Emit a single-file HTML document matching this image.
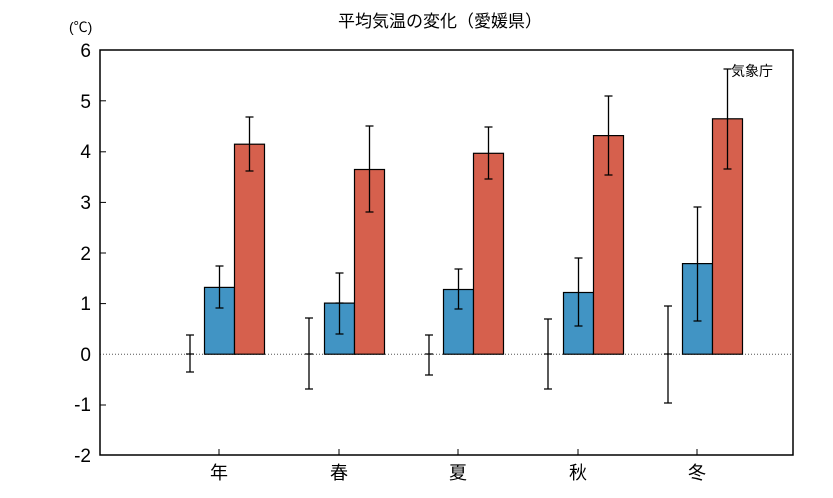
<!DOCTYPE html>
<html><head><meta charset="utf-8"><style>body{margin:0;background:#fff}svg{display:block}text{font-family:"Liberation Sans","Noto Sans CJK JP",sans-serif;fill:#000}</style></head><body>
<svg width="833" height="498" viewBox="0 0 833 498" xmlns="http://www.w3.org/2000/svg">
<text x="440" y="27" font-size="17" text-anchor="middle">平均気温の変化（愛媛県）</text>
<text x="69" y="32" font-size="14">(℃)</text>
<g font-size="19" text-anchor="end">
<text x="91" y="57">6</text><text x="91" y="108">5</text><text x="91" y="158">4</text><text x="91" y="209">3</text><text x="91" y="260">2</text><text x="91" y="310">1</text><text x="91" y="361">0</text><text x="91" y="411">-1</text><text x="91" y="462">-2</text>
</g>
<g stroke="#000" stroke-width="1">
<line x1="100" y1="100.8" x2="106" y2="100.8"/><line x1="100" y1="151.8" x2="106" y2="151.8"/><line x1="100" y1="202.4" x2="106" y2="202.4"/><line x1="100" y1="253" x2="106" y2="253"/><line x1="100" y1="303.6" x2="106" y2="303.6"/><line x1="100" y1="405" x2="106" y2="405"/>
<line x1="219" y1="449" x2="219" y2="455"/><line x1="339" y1="449" x2="339" y2="455"/><line x1="458" y1="449" x2="458" y2="455"/><line x1="578" y1="449" x2="578" y2="455"/><line x1="697" y1="449" x2="697" y2="455"/>
</g>
<line x1="100" y1="354.25" x2="793" y2="354.25" stroke="#555" stroke-width="1" stroke-dasharray="1,2"/>
<g stroke="#000" stroke-width="1.2">
<rect x="204.5" y="287.4" width="30" height="66.8" fill="#4194c4"/><rect x="234.5" y="144.2" width="30" height="210" fill="#d6604d"/>
<rect x="324.5" y="303.1" width="30" height="51.1" fill="#4194c4"/><rect x="354.5" y="169.5" width="30" height="184.7" fill="#d6604d"/>
<rect x="443.5" y="289.5" width="30" height="64.7" fill="#4194c4"/><rect x="473.5" y="153.3" width="30" height="200.9" fill="#d6604d"/>
<rect x="563.5" y="292.5" width="30" height="61.7" fill="#4194c4"/><rect x="593.5" y="135.6" width="30" height="218.6" fill="#d6604d"/>
<rect x="682.5" y="263.6" width="30" height="90.6" fill="#4194c4"/><rect x="712.5" y="118.8" width="30" height="235.4" fill="#d6604d"/>
</g>
<g stroke="#000" stroke-width="1.3" fill="none">
<path d="M190 335v37M186 335h8M186 372h8M186 354h8"/>
<path d="M219.5 266v42M215.5 266h8M215.5 308h8"/>
<path d="M249.5 117v54M245.5 117h8M245.5 171h8"/>
<path d="M309 318v71M305 318h8M305 389h8M305 354h8"/>
<path d="M339.5 273v61M335.5 273h8M335.5 334h8M335.5 303h8"/>
<path d="M369.5 126v86M365.5 126h8M365.5 212h8"/>
<path d="M429 335v40M425 335h8M425 375h8M425 354h8"/>
<path d="M458.5 269v40M454.5 269h8M454.5 309h8"/>
<path d="M488.5 127v52M484.5 127h8M484.5 179h8"/>
<path d="M548 319v70M544 319h8M544 389h8M544 354h8"/>
<path d="M578.5 258v68M574.5 258h8M574.5 326h8"/>
<path d="M608.5 96v79M604.5 96h8M604.5 175h8"/>
<path d="M668 306v97M664 306h8M664 403h8M664 354h8"/>
<path d="M697.5 207v114M693.5 207h8M693.5 321h8"/>
<path d="M727.5 69v100M723.5 69h8M723.5 169h8"/>
</g>
<rect x="100" y="50" width="693" height="405" fill="none" stroke="#000" stroke-width="1.5"/>
<text x="731" y="76" font-size="14">気象庁</text>
<g font-size="18" text-anchor="middle">
<text x="219" y="479">年</text><text x="339" y="479">春</text><text x="458" y="479">夏</text><text x="578" y="479">秋</text><text x="697" y="479">冬</text>
</g>
</svg>
</body></html>
